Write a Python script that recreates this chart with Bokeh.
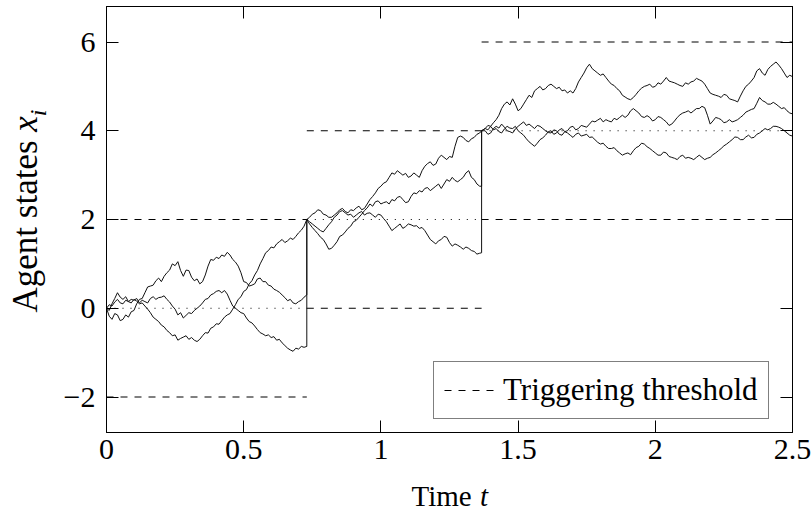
import numpy as np
from bokeh.plotting import figure
from bokeh.models import Range1d, LinearAxis, FixedTicker, Legend, LegendItem
from bokeh.layouts import row, column
from bokeh.core.properties import value
from bokeh.embed import file_html
from bokeh.resources import INLINE

# ---------------- data ----------------
# triggering event times and the consensus level between events
event_times = [0.0, 0.73, 1.367, 2.5]
levels = [0.0, 2.0, 4.0]
threshold_offset = 2.0

# sampling grid of each inter-event interval (first point of 2nd/3rd = the jump instant)
t_seg1 = [round(0.01 * k, 2) for k in range(73)] + [0.73]
t_seg2 = [0.73] + [round(0.74 + 0.01 * k, 2) for k in range(63)] + [1.367]
t_seg3 = [1.367] + [round(1.38 + 0.01 * k, 2) for k in range(113)]

# agent 1
a1_seg1 = [0.0, -0.18, -0.25, -0.12, -0.15, -0.28, -0.25, -0.15, -0.2, -0.08,
           -0.05, 0.1, 0.2, 0.22, 0.35, 0.48, 0.5, 0.52, 0.62, 0.68,
           0.6, 0.72, 0.8, 0.86, 1.0, 0.96, 1.05, 0.85, 0.72, 0.86,
           0.85, 0.7, 0.62, 0.66, 0.55, 0.6, 0.75, 0.95, 1.1, 1.08,
           1.15, 1.12, 1.2, 1.17, 1.26, 1.2, 1.1, 1.04, 0.95, 0.8,
           0.6, 0.58, 0.5, 0.52, 0.55, 0.66, 0.68, 0.6, 0.6, 0.52,
           0.5, 0.43, 0.4, 0.36, 0.3, 0.24, 0.17, 0.2, 0.12, 0.1,
           0.15, 0.18, 0.25,
           0.3]
a1_seg2 = [2.0,
           1.9, 1.82, 1.75, 1.68, 1.6, 1.55, 1.45, 1.33, 1.35, 1.42,
           1.5, 1.62, 1.65, 1.72, 1.8, 1.85, 1.95, 1.98, 2.05, 2.12,
           2.2, 2.26, 2.35, 2.3, 2.4, 2.42, 2.35, 2.38, 2.4, 2.35,
           2.45, 2.42, 2.5, 2.52, 2.45, 2.38, 2.4, 2.52, 2.6, 2.58,
           2.65, 2.62, 2.7, 2.72, 2.65, 2.7, 2.75, 2.8, 2.7, 2.8,
           2.9, 2.86, 2.95, 2.88, 2.85, 2.9, 2.95, 3.05, 3.1, 2.95,
           2.9, 2.8, 2.75,
           2.75]
a1_seg3 = [4.0,
           4.0, 3.92, 3.95, 4.05, 4.1, 4.06, 4.15, 4.08, 4.0, 3.98,
           3.95, 4.04, 4.1, 4.15, 4.2, 4.12, 4.15, 4.1, 4.05, 4.12,
           4.1, 4.05, 4.0, 3.96, 3.95, 4.02, 4.0, 3.92, 3.9, 3.98,
           3.95, 3.9, 3.85, 3.92, 3.95, 3.88, 3.9, 3.92, 3.85, 3.86,
           3.8, 3.74, 3.7, 3.72, 3.65, 3.6, 3.6, 3.62, 3.55, 3.5,
           3.45, 3.48, 3.5, 3.46, 3.55, 3.62, 3.65, 3.72, 3.7, 3.64,
           3.6, 3.55, 3.5, 3.45, 3.45, 3.52, 3.5, 3.42, 3.4, 3.38,
           3.35, 3.42, 3.45, 3.38, 3.4, 3.38, 3.35, 3.4, 3.45, 3.4,
           3.35, 3.38, 3.4, 3.46, 3.5, 3.55, 3.6, 3.66, 3.7, 3.75,
           3.8, 3.86, 3.85, 3.8, 3.8, 3.86, 3.9, 3.84, 3.85, 3.92,
           3.95, 4.0, 4.05, 4.02, 4.05, 4.1, 4.1, 4.08, 4.05, 4.0,
           3.95, 3.9, 3.88]

# agent 2
a2_seg1 = [0.0, -0.05, 0.1, 0.22, 0.35, 0.25, 0.2, 0.26, 0.15, 0.2,
           0.18, 0.22, 0.12, 0.18, 0.15, 0.12, 0.22, 0.26, 0.2, 0.24,
           0.25, 0.28, 0.2, 0.14, 0.05, -0.02, -0.15, -0.1, -0.22, -0.16,
           -0.1, -0.12, -0.05, 0.0, 0.05, 0.12, 0.2, 0.22, 0.3, 0.33,
           0.38, 0.4, 0.35, 0.4, 0.32, 0.18, 0.05, 0.0, -0.05, -0.1,
           -0.12, -0.22, -0.3, -0.33, -0.4, -0.48, -0.55, -0.58, -0.62, -0.6,
           -0.66, -0.64, -0.72, -0.7, -0.78, -0.84, -0.9, -0.94, -0.97, -0.9,
           -0.92, -0.86, -0.88,
           -0.86]
a2_seg2 = [2.0,
           1.95, 1.9, 1.85, 1.8, 1.75, 1.72, 1.8, 1.88, 1.95, 2.05,
           2.1, 2.18, 2.2, 2.15, 2.1, 2.12, 2.05, 2.1, 2.15, 2.18,
           2.1, 2.14, 2.15, 2.1, 2.05, 2.12, 2.1, 2.02, 1.95, 1.85,
           1.75, 1.8, 1.85, 1.9, 1.8, 1.84, 1.9, 1.88, 1.85, 1.86,
           1.8, 1.82, 1.75, 1.65, 1.55, 1.5, 1.45, 1.52, 1.55, 1.62,
           1.6, 1.48, 1.4, 1.45, 1.42, 1.38, 1.33, 1.38, 1.35, 1.3,
           1.28, 1.22, 1.24,
           1.25]
a2_seg3 = [4.0,
           4.05, 4.12, 4.1, 4.02, 4.05, 3.98, 3.95, 4.04, 4.1, 4.06,
           4.05, 4.1, 4.0, 3.95, 3.9, 3.82, 3.75, 3.7, 3.65, 3.72,
           3.8, 3.84, 3.9, 3.98, 4.0, 3.92, 3.95, 4.02, 4.05, 3.98,
           4.0, 4.08, 4.1, 4.02, 4.05, 4.12, 4.1, 4.08, 4.15, 4.22,
           4.2, 4.24, 4.28, 4.2, 4.25, 4.22, 4.2, 4.28, 4.25, 4.3,
           4.35, 4.3, 4.35, 4.45, 4.5, 4.45, 4.4, 4.32, 4.3, 4.34,
           4.3, 4.22, 4.25, 4.32, 4.3, 4.25, 4.2, 4.12, 4.15, 4.22,
           4.3, 4.36, 4.4, 4.42, 4.45, 4.4, 4.45, 4.5, 4.5, 4.55,
           4.52, 4.35, 4.15, 4.22, 4.3, 4.28, 4.25, 4.18, 4.2, 4.25,
           4.2, 4.22, 4.25, 4.3, 4.35, 4.42, 4.45, 4.48, 4.5, 4.62,
           4.75, 4.68, 4.65, 4.6, 4.6, 4.64, 4.6, 4.55, 4.5, 4.52,
           4.45, 4.4, 4.38]

# agent 3
a3_seg1 = [0.0, 0.08, 0.05, 0.14, 0.2, 0.12, 0.1, 0.18, 0.15, 0.12,
           0.2, 0.16, 0.1, 0.12, 0.05, -0.02, -0.1, -0.2, -0.25, -0.3,
           -0.38, -0.42, -0.5, -0.55, -0.62, -0.6, -0.72, -0.68, -0.65, -0.62,
           -0.7, -0.66, -0.72, -0.75, -0.7, -0.62, -0.55, -0.56, -0.45, -0.42,
           -0.35, -0.36, -0.28, -0.2, -0.15, -0.12, -0.02, 0.08, 0.2, 0.26,
           0.38, 0.42, 0.55, 0.62, 0.75, 0.85, 1.0, 1.12, 1.25, 1.3,
           1.38, 1.36, 1.45, 1.5, 1.55, 1.48, 1.52, 1.58, 1.55, 1.62,
           1.7, 1.76, 1.85,
           2.0]
a3_seg2 = [2.0,
           2.05, 2.12, 2.15, 2.22, 2.2, 2.12, 2.1, 2.05, 2.05, 2.1,
           2.15, 2.22, 2.25, 2.18, 2.15, 2.22, 2.2, 2.26, 2.3, 2.22,
           2.25, 2.35, 2.45, 2.52, 2.6, 2.7, 2.75, 2.82, 2.85, 2.95,
           3.05, 3.02, 3.1, 3.05, 3.0, 3.04, 2.95, 2.98, 3.05, 3.0,
           2.95, 3.1, 3.2, 3.26, 3.3, 3.22, 3.25, 3.38, 3.45, 3.4,
           3.35, 3.42, 3.4, 3.65, 3.85, 3.88, 3.85, 3.78, 3.75, 3.82,
           3.85, 3.92, 3.95,
           4.0]
a3_seg3 = [4.0,
           4.05, 4.02, 4.1, 4.18, 4.25, 4.35, 4.5, 4.6, 4.65, 4.58,
           4.72, 4.6, 4.45, 4.5, 4.6, 4.7, 4.8, 4.75, 4.9, 4.95,
           5.0, 4.92, 4.95, 5.02, 5.05, 5.0, 4.95, 4.98, 4.9, 4.92,
           4.85, 4.9, 4.85, 4.95, 5.1, 5.2, 5.3, 5.42, 5.5, 5.4,
           5.35, 5.3, 5.25, 5.28, 5.2, 5.12, 5.05, 5.02, 4.95, 4.9,
           4.8, 4.76, 4.72, 4.7, 4.75, 4.82, 4.9, 4.96, 5.0, 5.02,
           5.05, 4.98, 5.0, 5.08, 5.05, 5.12, 5.2, 5.12, 5.1, 5.08,
           5.05, 5.02, 5.0, 5.08, 5.05, 5.1, 5.12, 5.18, 5.15, 5.12,
           5.05, 4.95, 4.85, 4.82, 4.8, 4.78, 4.75, 4.82, 4.8, 4.72,
           4.7, 4.68, 4.65, 4.78, 4.9, 5.0, 5.05, 5.12, 5.2, 5.35,
           5.4, 5.3, 5.25, 5.38, 5.45, 5.5, 5.55, 5.48, 5.4, 5.3,
           5.2, 5.25, 5.22]

x_ticks = [0, 0.5, 1, 1.5, 2, 2.5]
x_tick_labels = ["0", "0.5", "1", "1.5", "2", "2.5"]
y_ticks = [-2, 0, 2, 4, 6]
y_tick_labels = ["\u22122", "0", "2", "4", "6"]

# ---------------- styling ----------------
FONT = "Liberation Serif"
TICK_FS = "30px"
LEGEND_FS = "31px"
XLABEL_FS = "29px"
YLABEL_FS = "35px"
YSUB_FS = "24px"

PAGE_H = 514
LEFT_W, MAIN_W, FULL_W = 60, 752, 812
MAIN_H, BOTTOM_H = 478, 36
B_LEFT, B_RIGHT, B_TOP, B_BOTTOM = 45, 20, 6, 46

p = figure(width=MAIN_W, height=MAIN_H, x_range=Range1d(0, 2.5), y_range=Range1d(-2.8, 6.8),
           output_backend="svg", toolbar_location=None,
           min_border_left=B_LEFT, min_border_right=B_RIGHT,
           min_border_top=B_TOP, min_border_bottom=B_BOTTOM)
p.xgrid.visible = False
p.ygrid.visible = False
p.outline_line_color = "black"
p.background_fill_color = "white"
p.border_fill_color = "white"


def style_axis(ax, ticks, show_labels):
    ax.ticker = FixedTicker(ticks=ticks)
    ax.major_tick_in = 12
    ax.major_tick_out = 0
    ax.minor_tick_in = 0
    ax.minor_tick_out = 0
    ax.major_tick_line_color = "black"
    ax.axis_line_color = "black"
    if show_labels:
        ax.major_label_text_font = FONT
        ax.major_label_text_font_size = TICK_FS
        ax.major_label_text_color = "black"
    else:
        ax.major_label_text_color = None
        ax.major_label_text_font_size = "1px"
        ax.major_label_standoff = 0


style_axis(p.xaxis[0], x_ticks, True)
style_axis(p.yaxis[0], y_ticks, True)
p.xaxis[0].major_label_overrides = dict(zip(x_ticks, x_tick_labels))
p.yaxis[0].major_label_overrides = dict(zip(y_ticks, y_tick_labels))
p.xaxis[0].major_label_standoff = 7
p.yaxis[0].major_label_standoff = 11

top_axis = LinearAxis()
style_axis(top_axis, x_ticks, False)
p.add_layout(top_axis, "above")
right_axis = LinearAxis()
style_axis(right_axis, y_ticks, False)
p.add_layout(right_axis, "right")

# thresholds (dashed) and consensus levels (dotted)
seg_x0 = event_times[:-1]
seg_x1 = event_times[1:]
lower = [lv - threshold_offset for lv in levels]
upper = [lv + threshold_offset for lv in levels]

dashed = p.segment(x0=seg_x0 + seg_x0, x1=seg_x1 + seg_x1, y0=lower + upper, y1=lower + upper,
                   line_color="black", line_width=1, line_dash="7 7")
p.segment(x0=seg_x0, x1=seg_x1, y0=levels, y1=levels,
          line_color="black", line_width=1, line_dash="1 7")

# agent trajectories
t_all = t_seg1 + t_seg2 + t_seg3
for s1, s2, s3 in [(a1_seg1, a1_seg2, a1_seg3), (a2_seg1, a2_seg2, a2_seg3),
                   (a3_seg1, a3_seg2, a3_seg3)]:
    p.line(t_all, s1 + s2 + s3, line_color="#111111", line_width=1)

legend = Legend(items=[LegendItem(label="Triggering threshold", renderers=[dashed])],
                location=(327, 13))
legend.label_text_font = FONT
legend.label_text_font_size = LEGEND_FS
legend.label_text_color = "black"
legend.glyph_width = 51
legend.glyph_height = 30
legend.label_height = 30
legend.label_standoff = 8
legend.padding = 10
legend.margin = 0
legend.border_line_color = "black"
legend.border_line_width = 1
legend.background_fill_alpha = 1
p.add_layout(legend, "center")


# ---------------- axis titles (canvases whose ranges are page pixels) ----------------
def text_canvas(w, h, xr, yr, bl, br, bt, bb):
    f = figure(width=w, height=h, x_range=Range1d(*xr), y_range=Range1d(*yr),
               output_backend="svg", toolbar_location=None,
               x_axis_location=None, y_axis_location=None,
               min_border_left=bl, min_border_right=br, min_border_top=bt,
               min_border_bottom=bb)
    f.xgrid.visible = False
    f.ygrid.visible = False
    f.outline_line_color = None
    f.background_fill_color = "white"
    f.border_fill_color = "white"
    return f


# left canvas: same top/bottom borders as the plot; y = PAGE_H - page_y
left = text_canvas(LEFT_W, MAIN_H, (0, LEFT_W),
                   (PAGE_H - (MAIN_H - B_BOTTOM), PAGE_H - B_TOP), 0, 0, B_TOP, B_BOTTOM)
ylab_x = [25.4, 25.4, 37]
ylab_y = [PAGE_H - 312, PAGE_H - 131.2, PAGE_H - 115.7]
left.text(x=ylab_x[:1], y=ylab_y[:1], text=["Agent states"], text_font=value(FONT),
          text_font_size=value(YLABEL_FS), angle=np.pi / 2, text_align="left",
          text_baseline="alphabetic", text_color="black")
left.text(x=ylab_x[1:2], y=ylab_y[1:2], text=["x"], text_font=value(FONT),
          text_font_size=value(YLABEL_FS), text_font_style=value("italic"), angle=np.pi / 2,
          text_align="left", text_baseline="alphabetic", text_color="black")
left.text(x=ylab_x[2:], y=ylab_y[2:], text=["i"], text_font=value(FONT),
          text_font_size=value(YSUB_FS), text_font_style=value("italic"), angle=np.pi / 2,
          text_align="left", text_baseline="alphabetic", text_color="black")

# bottom canvas: frame spans the plot frame horizontally; x = page_x, y = PAGE_H - page_y
frame_left = LEFT_W + B_LEFT
frame_right = FULL_W - B_RIGHT
bottom = text_canvas(FULL_W, BOTTOM_H, (frame_left, frame_right), (0, BOTTOM_H),
                     frame_left, B_RIGHT, 0, 0)
bottom.text(x=[411], y=[19], text=["Time"], text_font=value(FONT),
            text_font_size=value(XLABEL_FS), text_align="left", text_baseline="alphabetic",
            text_color="black")
bottom.text(x=[479.5], y=[19], text=["t"], text_font=value(FONT),
            text_font_size=value(XLABEL_FS), text_font_style=value("italic"),
            text_align="left", text_baseline="alphabetic", text_color="black")

layout = column(row(left, p), bottom)

open("out.html", "w").write(file_html(layout, INLINE))
